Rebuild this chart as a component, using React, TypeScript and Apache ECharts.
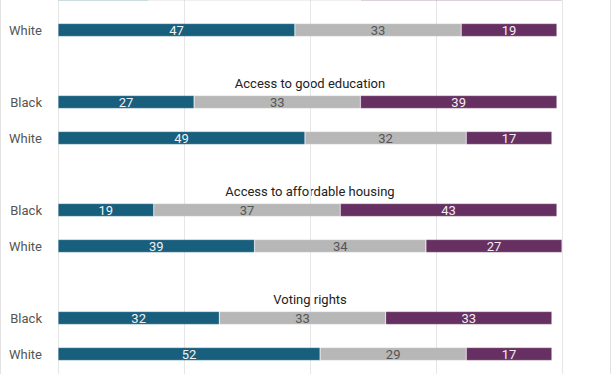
import React, { useEffect, useRef } from "react";
import * as echarts from "echarts";

// Data
const rowLabels = ["Black", "White"];
const groupTitles = ["", "Access to good education", "Access to affordable housing", "Voting rights"];
// per group: [Black, White]
const blueValues = [[18, 47], [27, 49], [19, 39], [32, 52]];
const grayValues = [[42, 33], [33, 32], [37, 34], [33, 29]];
const purpleValues = [[40, 19], [39, 17], [43, 27], [33, 17]];
const xTicks = [0, 25, 50, 75, 100];

const COLORS = { blue: "#185e7d", gray: "#b7b7b7", purple: "#663062" };

// The visible picture is a window onto a taller chart
const OFFSET = 60;
const INNER_H = 500;

export default function App() {
  const ref = useRef<HTMLDivElement>(null);
  useEffect(() => {
    if (!ref.current) return;
    const chart = echarts.init(ref.current, null, { renderer: "svg" });
    const firstTop = -24 + OFFSET;
    const step = 108;
    const gridH = 108;
    const grids: any[] = [];
    const xAxes: any[] = [];
    const yAxes: any[] = [];
    const series: any[] = [];
    const graphics: any[] = [
      {
        type: "rect",
        shape: { x: 0.5, y: 0, width: 610, height: INNER_H },
        style: { fill: "none", stroke: "#e2e2e2", lineWidth: 1 },
        silent: true,
        z: 0,
      },
    ];
    const font = "Roboto, 'Noto Sans', sans-serif";
    groupTitles.forEach((title, g) => {
      const top = firstTop + g * step;
      grids.push({ left: 58, right: 50, top, height: gridH, containLabel: false });
      xAxes.push({
        type: "value",
        gridIndex: g,
        min: xTicks[0],
        max: xTicks[xTicks.length - 1],
        interval: xTicks[1] - xTicks[0],
        axisLabel: { show: false },
        axisLine: { show: false },
        axisTick: { show: false },
        splitLine: { show: true, lineStyle: { color: "#e6e6e6", width: 1 } },
      });
      yAxes.push({
        type: "category",
        gridIndex: g,
        inverse: true,
        data: [...rowLabels, ""],
        axisLine: { show: false },
        axisTick: { show: false },
        axisLabel: { color: "#555", fontSize: 13, margin: 16, fontFamily: font },
        splitLine: { show: false },
      });
      const mk = (name: string, vals: number[][], color: string, labelColor: string) => ({
        type: "bar",
        name,
        stack: "s" + g,
        xAxisIndex: g,
        yAxisIndex: g,
        barWidth: 13,
        data: [...vals[g], null],
        itemStyle: { color, borderColor: "rgba(255,255,255,0.35)", borderWidth: 0.6 },
        label: {
          show: true,
          position: "inside",
          color: labelColor,
          fontSize: 13,
          fontFamily: font,
        },
      });
      series.push(mk("blue", blueValues, COLORS.blue, "#eef3f6"));
      series.push(mk("gray", grayValues, COLORS.gray, "#555"));
      series.push(mk("purple", purpleValues, COLORS.purple, "#f3eef3"));
      if (title) {
        graphics.push({
          type: "text",
          x: 310,
          y: top - 1,
          style: {
            text: title,
            fill: "#222",
            fontSize: 13,
            fontFamily: font,
            textAlign: "center",
            textVerticalAlign: "middle",
          },
        });
      }
    });
    chart.setOption({
      animation: false,
      backgroundColor: "#fff",
      grid: grids,
      xAxis: xAxes,
      yAxis: yAxes,
      series,
      graphic: graphics,
    });
    return () => chart.dispose();
  }, []);
  return (
    <div style={{ position: "absolute", left: 0, top: 0, width: 612, height: 374, overflow: "hidden" }}>
      <div ref={ref} style={{ position: "absolute", left: 0, top: -OFFSET, width: 612, height: INNER_H }} />
    </div>
  );
}
